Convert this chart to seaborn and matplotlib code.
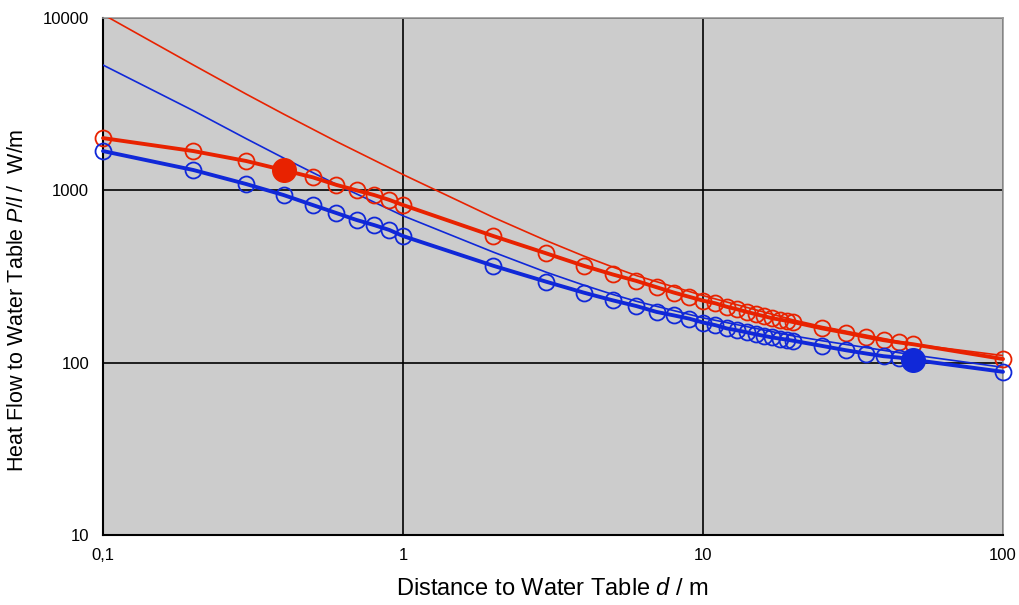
import numpy as np
import pandas as pd
import matplotlib
matplotlib.use("Agg")
import matplotlib.pyplot as plt
import matplotlib.ticker as mticker
import seaborn as sns

# distances of the computed points (m)
d = [0.1, 0.2, 0.3, 0.4, 0.5, 0.6, 0.7, 0.8, 0.9, 1,
     2, 3, 4, 5, 6, 7, 8, 9, 10,
     11, 12, 13, 14, 15, 16, 17, 18, 19, 20,
     25, 30, 35, 40, 45, 50, 100]

red_pts = [2010, 1690, 1480, 1310, 1190, 1075, 1000, 940, 880, 822,
           543, 431, 365, 325, 298, 274, 255, 241, 229,
           221, 211, 204, 197, 191, 186, 181, 178, 175, 172,
           158, 149, 141, 135, 131, 128, 105]

blue_pts = [1690, 1312, 1088, 939, 822, 738, 673, 629, 589, 543,
            365, 295, 255, 230, 213, 197, 188, 180, 171,
            165, 158, 154, 150, 146, 143, 140, 138, 136, 134,
            125, 118, 113, 109, 107, 104, 88.5]

# thin reference curves
d_thin = [0.1, 0.2, 0.3, 0.4, 0.6, 1, 2, 3, 4, 5, 6, 10, 20, 25, 50, 100]
red_thin = [10490, 5340, 3620, 2770, 1920, 1235, 697, 511, 416, 359, 320,
            245, 177, 162, 128, 110]
blue_thin = [5335, 2900, 1995, 1540, 1082, 712, 438, 335, 282, 249, 227,
             182, 143, 134, 111, 94]

# highlighted points
red_mark = (0.4, 1310)
blue_mark = (50, 104)

RED = "#E82200"
BLUE = "#1028D8"

sns.set_style("white", {"axes.facecolor": "#CCCCCC"})
plt.rcParams["font.family"] = ["Liberation Sans", "DejaVu Sans"]
plt.rcParams["mathtext.fontset"] = "custom"
plt.rcParams["mathtext.it"] = "Liberation Sans:italic"
plt.rcParams["mathtext.rm"] = "Liberation Sans"
for key in ["text.color", "axes.labelcolor", "xtick.color", "ytick.color"]:
    plt.rcParams[key] = "black"

fig = plt.figure(figsize=(10.19, 6.05), dpi=100)
ax = fig.add_axes([103 / 1019, 70 / 605, 900 / 1019, 517 / 605])

thick = pd.DataFrame({"d": d, "red": red_pts, "blue": blue_pts})
thin = pd.DataFrame({"d": d_thin, "red": red_thin, "blue": blue_thin})

sns.lineplot(data=thin, x="d", y="red", ax=ax, color=RED, lw=1.2, zorder=3)
sns.lineplot(data=thin, x="d", y="blue", ax=ax, color=BLUE, lw=1.2, zorder=3)
sns.lineplot(data=thick, x="d", y="red", ax=ax, color=RED, lw=2.8, marker="o",
             markersize=11.5, markerfacecolor="none", markeredgecolor=RED,
             markeredgewidth=1.3, zorder=4, clip_on=False)
sns.lineplot(data=thick, x="d", y="blue", ax=ax, color=BLUE, lw=2.8, marker="o",
             markersize=11.5, markerfacecolor="none", markeredgecolor=BLUE,
             markeredgewidth=1.3, zorder=4, clip_on=False)
ax.plot(*red_mark, "o", color=RED, markersize=17, zorder=5)
ax.plot(*blue_mark, "o", color=BLUE, markersize=17, zorder=5)

ax.set_xscale("log")
ax.set_yscale("log")
ax.set_xlim(0.1, 100)
ax.set_ylim(10, 10000)

ax.xaxis.set_major_locator(mticker.FixedLocator([0.1, 1, 10, 100]))
ax.set_xticklabels(["0,1", "1", "10", "100"])
ax.yaxis.set_major_locator(mticker.FixedLocator([10, 100, 1000, 10000]))
ax.set_yticklabels(["10", "100", "1000", "10000"])
ax.xaxis.set_minor_locator(mticker.LogLocator(subs=np.arange(2, 10)))
ax.yaxis.set_minor_locator(mticker.LogLocator(subs=np.arange(2, 10)))
ax.xaxis.set_minor_formatter(mticker.NullFormatter())
ax.yaxis.set_minor_formatter(mticker.NullFormatter())

ax.tick_params(which="major", direction="out", length=4, width=1, color="black",
               labelsize=12, pad=6)
ax.tick_params(which="minor", direction="in", length=4, width=1, color="black")
ax.tick_params(axis="x", which="major", pad=5)

ax.grid(which="major", color="black", lw=1.2)
ax.set_axisbelow(True)

for side in ["left", "bottom"]:
    ax.spines[side].set_color("black")
    ax.spines[side].set_linewidth(1.5)
for side in ["top", "right"]:
    ax.spines[side].set_visible(True)
    ax.spines[side].set_color("#999999")
    ax.spines[side].set_linewidth(1.2)

ax.set_xlabel("Distance to Water Table $\\it{d}$ / m", fontsize=17)
ax.set_ylabel("Heat Flow to Water Table $\\it{P/l}$ /  W/m", fontsize=15.5)
ax.xaxis.set_label_coords(0.499, -0.083)
ax.yaxis.set_label_coords(-0.083, 0.455)

fig.savefig("out.png", dpi=100)
